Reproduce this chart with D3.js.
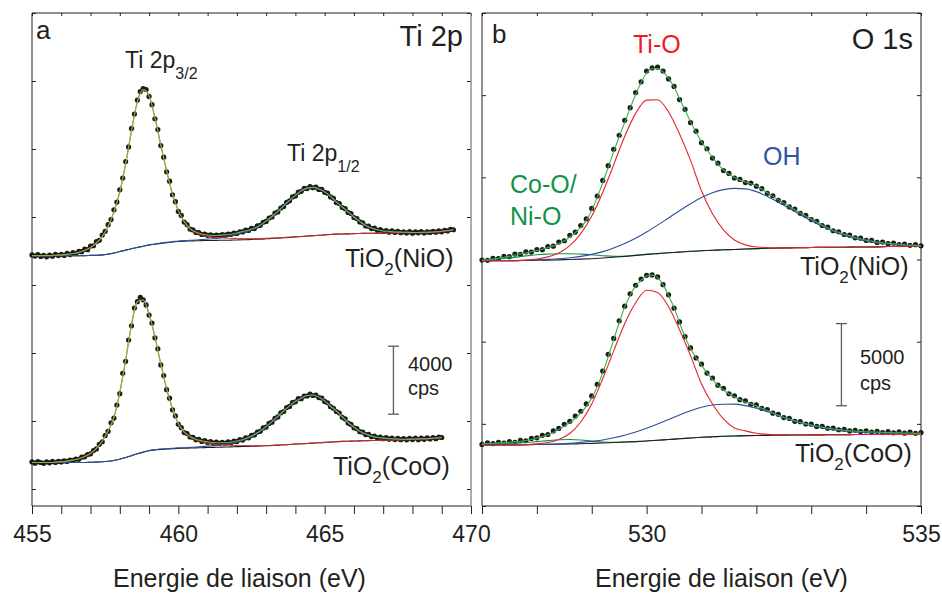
<!DOCTYPE html>
<html><head><meta charset="utf-8">
<script src="https://cdn.jsdelivr.net/npm/d3@7"></script>
<style>
body{margin:0;background:#fff}
svg{display:block}
text{font-family:"Liberation Sans",Arial,Helvetica,sans-serif;fill:#231f20}
</style>
</head><body>
<svg id="c" width="942" height="594"></svg>
<script>
// ================= DATA =================
// Panel a : Ti 2p  (binding energy grid: start + i*step)
const tiStart = 455.0, tiDotStep = 0.1, tiFitStep = 0.2;
const tiOffsetNiO = 13730, tiOffsetCoO = 1560;      // vertical stacking offsets (cps)
const tiTicksMinor = [455,456,457,458,459,460,461,462,463,464,465,466,467,468,469,470];
const tiTickLabels = [455,460,465,470];
const tiYTicks = [0,4000,8000,12000,16000,20000,24000,28000];

const tiNiODots = [40,-30,60,-50,20,-70,30,-40,80,0,
70,10,130,60,170,110,250,230,380,350,
560,580,820,900,1210,1430,1820,2120,2690,3150,
3870,4560,5530,6390,7480,8330,9150,9650,9820,9770,
9360,8880,8050,7410,6470,5790,4930,4380,3580,3170,
2600,2360,1970,1820,1560,1510,1360,1350,1240,1260,
1190,1220,1160,1210,1170,1230,1200,1270,1250,1330,
1300,1400,1390,1500,1480,1600,1590,1750,1780,1960,
2010,2210,2270,2500,2570,2800,2890,3130,3220,3450,
3510,3730,3780,3950,3940,4060,3990,4030,3890,3890,
3720,3670,3450,3370,3120,3060,2830,2760,2540,2470,
2240,2180,1980,1930,1740,1730,1590,1610,1490,1530,
1420,1470,1380,1450,1360,1420,1350,1400,1330,1410,
1320,1390,1340,1410,1330,1400,1360,1420,1380,1450,
1400,1490,1450,1540,1520];
const tiNiOEnv = [0,0,0,0,20, 40,70,120,190,310, 470,740,1120,1710,2570, 3750,5400,7350,9060,9760,
9410,8110,6520,4990,3630, 2660,2010,1590,1390,1270, 1210,1180,1190,1220,1260, 1330,1420,1500,1620,1800,
2040,2300,2600,2920,3250, 3540,3810,3970,4010,3920, 3750,3480,3160,2860,2570, 2270,2010,1770,1620,1520,
1450,1420,1390,1380,1370, 1360,1360,1370,1380,1400, 1430,1480,1520];
const tiNiOBg = [0,0,0,0,0, 0,0,0,0,0, 10,20,40,90,150, 240,320,400,480,550,
620,670,720,760,800, 830,850,860,870,880, 890,890,900,900,910, 920,930,940,960,970,
990,1010,1030,1050,1070, 1100,1120,1150,1170,1200, 1220,1240,1260,1270,1280, 1290,1300,1310,1310,1320,
1320,1330,1330,1340,1340, 1340,1345,1350,1360,1380, 1410,1450,1500];
const tiNiOP32 = [0,0,0,0,20, 40,70,120,190,310, 470,740,1120,1710,2570, 3750,5400,7350,9060,9760,
9400,8100,6500,4980,3610, 2640,1980,1550,1340,1210, 1130,1080,1060,1030,1020, 1010,1000,1000,1000,1000,
1010,1030,1040,1060,1080, 1100,1120,1150,1170,1200, 1220,1240,1260,1270,1280, 1290,1300,1310,1310,1320,
1320,1330,1330,1340,1340, 1340,1345,1350,1360,1380, 1410,1450,1500];
const tiNiOP12 = [0,0,0,0,0, 0,0,0,0,0, 10,20,40,90,150, 240,320,400,480,550,
630,680,740,780,820, 860,880,900,920,950, 970,990,1030,1090,1150, 1240,1350,1440,1580,1770,
2020,2290,2590,2910,3240, 3540,3810,3970,4010,3920, 3750,3480,3160,2860,2570, 2270,2010,1770,1620,1520,
1450,1420,1390,1380,1370, 1360,1360,1370,1380,1400, 1430,1480,1520];

const tiCoODots = [30,-40,50,0,-50,40,-20,60,0,70,
30,100,60,140,120,200,190,310,330,470,
510,700,800,1070,1220,1580,1830,2330,2610,3380,
4050,5250,5950,7200,8040,9080,9460,9720,9570,9270,
8670,8200,7330,6690,5740,5110,4280,3780,3100,2740,
2250,2050,1760,1700,1500,1480,1340,1360,1240,1280,
1180,1230,1140,1200,1120,1190,1130,1210,1160,1260,
1230,1340,1320,1450,1450,1600,1620,1790,1830,2030,
2080,2300,2370,2600,2680,2920,3000,3230,3300,3520,
3570,3760,3750,3910,3910,4020,3940,3970,3820,3790,
3590,3510,3280,3190,3000,2910,2660,2560,2320,2240,
2040,1990,1810,1790,1640,1650,1520,1550,1450,1490,
1400,1460,1370,1430,1350,1420,1340,1410,1330,1420,
1350,1440,1340,1430,1360,1450,1380,1470,1400,1490,
1470];
const tiCoOEnv = [0,0,0,0,20, 50,80,140,220,350, 530,830,1250,1860,2660, 4130,6020,8110,9450,9560,
8730,7400,5810,4340,3160, 2300,1800,1530,1370,1280, 1220,1170,1160,1160,1190, 1260,1350,1480,1650,1860,
2110,2400,2710,3030,3330, 3600,3780,3940,3970,3850, 3620,3310,3030,2690,2350, 2070,1840,1670,1550,1480,
1430,1400,1390,1370,1370, 1380,1390,1400,1420,1440, 1480];
const tiCoOBg = [0,0,0,0,0, 0,0,0,0,0, 10,20,40,70,120, 190,290,400,510,610,
690,740,770,790,810, 830,840,850,860,870, 880,890,900,910,920, 930,940,950,960,970,
980,1000,1020,1040,1060, 1080,1100,1120,1140,1160, 1180,1200,1220,1240,1250, 1260,1270,1280,1290,1300,
1300,1310,1320,1330,1340, 1350,1360,1370,1390,1410, 1440];
const tiCoOP32 = [0,0,0,0,20, 50,80,140,220,350, 530,830,1250,1860,2660, 4130,6020,8110,9450,9560,
8720,7390,5800,4330,3140, 2280,1770,1490,1320,1220, 1140,1070,1040,1020,1010, 1000,1000,990,990,990,
1000,1010,1030,1040,1060, 1080,1100,1120,1140,1160, 1180,1200,1220,1240,1250, 1260,1270,1280,1290,1300,
1300,1310,1320,1330,1340, 1350,1360,1370,1390,1410, 1440];
const tiCoOP12 = [0,0,0,0,0, 0,0,0,0,0, 10,20,40,70,120, 190,290,400,510,610,
700,750,790,810,830, 860,870,890,910,940, 960,990,1030,1050,1100, 1190,1300,1440,1620,1840,
2100,2390,2700,3030,3330, 3600,3780,3940,3970,3850, 3620,3310,3030,2690,2350, 2070,1840,1670,1550,1480,
1430,1400,1390,1370,1370, 1380,1390,1400,1420,1440, 1480];

// Panel b : O 1s
const oStart = 527.0, oDotStep = 0.1, oFitStep = 0.2;
const oOffsetNiO = 14910, oOffsetCoO = 3710;
const oTicksMinor = [527,528,529,530,531,532,533,534,535];
const oTickLabels = [530,535];
const oYTicks = [0,5000,10000,15000,20000,25000,30000];

const oNiODots = [60,40,160,150,280,260,420,400,560,540,
700,690,880,900,1150,1230,1560,1760,2160,2560,
3200,3950,4900,5800,6800,7650,8560,9330,10250,10900,
11560,11750,11800,11560,11080,10620,9820,9230,8420,7900,
7200,6830,6260,5950,5500,5330,5050,4960,4770,4740,
4550,4400,4120,3970,3690,3560,3290,3160,2900,2770,
2520,2410,2160,2060,1840,1780,1610,1570,1410,1390,
1250,1250,1130,1150,1050,1090,1000,1030,950,990,
920];
const oNiOEnv = [30,70,120,170,230,290,360,430,490,560,
630,710,810,920,1060,1230,1460,1730,2040,2470,
3080,3870,4760,5700,6650,7560,8420,9300,10130,10860,
11440,11700,11710,11500,11130,10580,9880,9180,8480,7840,
7260,6770,6310,5890,5550,5280,5080,4920,4810,4700,
4580,4360,4150,3930,3720,3520,3320,3120,2930,2730,
2550,2370,2180,2020,1860,1740,1630,1530,1430,1350,
1270,1210,1150,1110,1070,1040,1020,990,970,950,
930];
const oNiOBg = [0,10,10,20,30, 40,50,70,90,110, 140,180,230,280,340, 400,450,500,540,590,
620,650,680,700,730, 750,770,790,800,810, 820,830,840,840,850, 850,860,880,890,900, 910];
const oNiOTiO = [0,10,10,20,50, 120,250,490,930,1660, 2730,4170,5860,7570,8980, 9790,9810,9070,7730,6120,
4270,2870,1890,1280,980, 850,810,790,800,810, 820,830,840,840,850, 850,860,880,890,900, 910];
const oNiOOH = [0,10,20,20,40, 70,100,130,200,280, 400,570,790,1060,1380, 1760,2180,2620,3060,3480,
3860,4150,4340,4420,4390, 4220,3920,3580,3200,2820, 2450,2110,1810,1560,1370, 1200,1100,1030,980,950, 920];
const oNiOMO = [50,90,150,220,310, 380,420,440,440,420, 380,320,280,290,340, 400,450,500,540,590,
620,650,680,700,730, 750,770,790,800,810, 820,830,840,840,850, 850,860,880,890,900, 910];

const oCoODots = [40,130,90,170,120,210,170,280,260,400,
440,590,640,860,1010,1260,1440,1760,2050,2500,
2990,3700,4500,5520,6490,7560,8450,9200,9720,10100,
10330,10350,10230,9760,9140,8330,7490,6600,5910,5300,
4920,4380,4080,3640,3450,3120,3000,2760,2690,2480,
2440,2230,2160,1940,1870,1670,1620,1440,1420,1280,
1270,1130,1140,1020,1030,930,960,860,900,820,
860,790,840,760,820,740,800,720,790,710,
760];
const oCoOEnv = [70,90,110,130,150,170,200,230,280,340,
410,510,620,770,950,1150,1370,1630,1950,2350,
2870,3540,4390,5370,6410,7440,8390,9120,9670,10030,
10280,10340,10190,9760,9090,8360,7440,6590,5860,5310,
4850,4390,4000,3630,3360,3110,2920,2760,2620,2500,
2380,2240,2100,1950,1810,1680,1570,1460,1370,1290,
1210,1150,1090,1030,980,940,900,870,850,830,
810,800,790,770,760,750,740,730,730,720,
710];
const oCoOBg = [0,0,10,10,20, 30,40,50,60,80, 100,120,150,180,210, 250,290,340,380,430,
470,500,530,550,570, 580,590,600,610,610, 620,620,630,630,640, 640,640,650,650,650, 650];
const oCoOTiO = [0,0,10,10,20, 70,150,340,700,1400, 2500,4030,5730,7380,8660, 9420,9280,8410,7020,5440,
3720,2500,1590,1040,860, 720,650,620,610,610, 620,620,630,630,640, 640,640,650,650,650, 650];
const oCoOOH = [0,0,10,10,20, 40,50,70,100,160, 230,310,440,600,790, 1020,1280,1560,1830,2090,
2300,2440,2480,2490,2400, 2240,2040,1790,1560,1360, 1190,1050,920,860,800, 760,740,720,710,700, 690];
const oCoOMO = [20,40,70,100,150, 210,270,320,340,310, 240,180,160,180,210, 250,290,340,380,430,
470,500,530,550,570, 580,590,600,610,610, 620,620,630,630,640, 640,640,650,650,650, 650];

const scaleBarA = [4400, 8400], scaleBarAE = 467.35;
const scaleBarB = [6100, 11100], scaleBarBE = 533.55;

// ================= DRAW =================
const svg = d3.select("#c");
const INK = "#231f20";
const FONT = '"Liberation Sans",Arial,Helvetica,sans-serif';
const series = (start, step, arr) => arr.map((v, i) => [start + i * step, v]);

function drawPanel(o) {
  const g = svg.append("g");
  const x = o.x, y = o.y;
  const [x0, x1] = x.range(), [yb, yt] = y.range();
  const ax = g.append("g").attr("transform", `translate(0,${yb})`)
    .call(d3.axisBottom(x).tickValues(o.xTicks).tickSize(8).tickPadding(12)
      .tickFormat(d => o.xLabels.includes(d) ? d : ""));
  ax.select(".domain").remove();
  ax.selectAll("line").attr("stroke", INK).attr("stroke-width", 1);
  ax.selectAll("text").attr("font-size", 23).attr("font-family", FONT).attr("fill", INK);
  const at = g.append("g").attr("transform", `translate(0,${yt})`)
    .call(d3.axisTop(x).tickValues(o.xTicks).tickSize(-3).tickFormat(""));
  at.select(".domain").remove();
  at.selectAll("line").attr("stroke", INK);
  const al = g.append("g").attr("transform", `translate(${x0},0)`)
    .call(d3.axisLeft(y).tickValues(o.yTicks).tickSize(-4).tickFormat(""));
  al.select(".domain").remove();
  al.selectAll("line").attr("stroke", INK);
  const ar = g.append("g").attr("transform", `translate(${x1},0)`)
    .call(d3.axisRight(y).tickValues(o.yTicks).tickSize(-4).tickFormat(""));
  ar.select(".domain").remove();
  ar.selectAll("line").attr("stroke", INK);
  g.append("line").attr("x1", x0).attr("x2", x1).attr("y1", yt).attr("y2", yt).attr("stroke", INK);
  g.append("line").attr("x1", x0).attr("x2", x1).attr("y1", yb).attr("y2", yb).attr("stroke", INK);
  g.append("line").attr("x1", x0).attr("x2", x0).attr("y1", yt).attr("y2", yb).attr("stroke", INK);
  g.append("line").attr("x1", x1).attr("x2", x1).attr("y1", yt).attr("y2", yb)
    .attr("stroke", o.rightColor).attr("stroke-width", o.rightWidth);

  o.spectra.forEach(sp => {
    const dots = series(o.start, o.dotStep, sp.dots);
    g.append("g").selectAll("circle").data(dots).join("circle")
      .attr("cx", d => x(d[0])).attr("cy", d => y(d[1] + sp.offset))
      .attr("r", 2.6).attr("fill", "#1c1c1c");
    sp.lines.forEach(l => {
      const line = d3.line().x(d => x(d[0])).y(d => y(d[1] + sp.offset)).curve(d3.curveMonotoneX);
      g.append("path").datum(series(o.start, l.step, l.values)).attr("d", line)
        .attr("fill", "none").attr("stroke", l.color).attr("stroke-width", l.width || 1.1)
        .attr("stroke-opacity", l.opacity || 1);
    });
  });
  const bx = x(o.barE), by0 = y(o.bar[0]), by1 = y(o.bar[1]);
  const bar = g.append("g").attr("stroke", "#58595b").attr("stroke-width", 1.3);
  bar.append("line").attr("x1", bx).attr("x2", bx).attr("y1", by0).attr("y2", by1);
  bar.append("line").attr("x1", bx - 5.5).attr("x2", bx + 5.5).attr("y1", by0).attr("y2", by0);
  bar.append("line").attr("x1", bx - 5.5).attr("x2", bx + 5.5).attr("y1", by1).attr("y2", by1);
  return g;
}

const xA = d3.scaleLinear().domain([455, 470]).range([32, 471]);
const yA = d3.scaleLinear().domain([-1000, 28000]).range([506, 13]);
const xB = d3.scaleLinear().domain([527, 535]).range([482, 921]);
const yB = d3.scaleLinear().domain([0, 30000]).range([506, 13]);

const ENV_A = "#79c143", RED = "#e3262b", BLUE = "#2e4d9e", ENV_B = "#3cb04a", MO = "#14904a";

drawPanel({
  x: xA, y: yA, xTicks: tiTicksMinor, xLabels: tiTickLabels, yTicks: tiYTicks,
  start: tiStart, dotStep: tiDotStep, rightColor: "#8a8a8a", rightWidth: 1.4,
  bar: scaleBarA, barE: scaleBarAE,
  spectra: [
    {offset: tiOffsetNiO, dots: tiNiODots, lines: [
      {values: tiNiOBg, step: tiFitStep, color: INK},
      {values: tiNiOP12, step: tiFitStep, color: BLUE},
      {values: tiNiOP32, step: tiFitStep, color: RED, opacity: 0.85},
      {values: tiNiOEnv, step: tiFitStep, color: ENV_A, opacity: 0.92}]},
    {offset: tiOffsetCoO, dots: tiCoODots, lines: [
      {values: tiCoOBg, step: tiFitStep, color: INK},
      {values: tiCoOP12, step: tiFitStep, color: BLUE},
      {values: tiCoOP32, step: tiFitStep, color: RED, opacity: 0.85},
      {values: tiCoOEnv, step: tiFitStep, color: ENV_A, opacity: 0.92}]}
  ]
});
drawPanel({
  x: xB, y: yB, xTicks: oTicksMinor, xLabels: oTickLabels, yTicks: oYTicks,
  start: oStart, dotStep: oDotStep, rightColor: INK, rightWidth: 1,
  bar: scaleBarB, barE: scaleBarBE,
  spectra: [
    {offset: oOffsetNiO, dots: oNiODots, lines: [
      {values: oNiOMO, step: oFitStep, color: MO},
      {values: oNiOBg, step: oFitStep, color: INK},
      {values: oNiOOH, step: oFitStep, color: BLUE},
      {values: oNiOTiO, step: oFitStep, color: RED},
      {values: oNiOEnv, step: oDotStep, color: ENV_B}]},
    {offset: oOffsetCoO, dots: oCoODots, lines: [
      {values: oCoOMO, step: oFitStep, color: MO},
      {values: oCoOBg, step: oFitStep, color: INK},
      {values: oCoOOH, step: oFitStep, color: BLUE},
      {values: oCoOTiO, step: oFitStep, color: RED},
      {values: oCoOEnv, step: oDotStep, color: ENV_B}]}
  ]
});

// ================= TEXT =================
function label(x, y, size, parts, opts = {}) {
  const t = svg.append("text").attr("x", x).attr("y", y).attr("font-size", size)
    .attr("text-anchor", opts.anchor || "start").attr("fill", opts.color || INK);
  parts.forEach(p => {
    const s = t.append("tspan").text(p.t);
    if (p.sub) s.attr("font-size", p.sub).attr("dy", p.dy);
    else if (p.dy) s.attr("dy", p.dy);
  });
  if (opts.color) t.selectAll("tspan").attr("fill", opts.color);
  return t;
}
label(36, 39, 26, [{t: "a"}]);
label(463, 46, 29, [{t: "Ti 2p"}], {anchor: "end"});
label(125, 68, 23, [{t: "Ti 2p"}, {t: "3/2", sub: 16, dy: 11}]);
label(287, 161, 23, [{t: "Ti 2p"}, {t: "1/2", sub: 16, dy: 11}]);
label(345, 267, 25, [{t: "TiO"}, {t: "2", sub: 17, dy: 8}, {t: "(NiO)", dy: -8}]);
label(333, 475, 25, [{t: "TiO"}, {t: "2", sub: 17, dy: 8}, {t: "(CoO)", dy: -8}]);
label(408, 371, 20, [{t: "4000"}]);
label(408, 395, 20, [{t: "cps"}]);
label(113, 587, 25, [{t: "Energie de liaison (eV)"}]);

label(492, 43, 26, [{t: "b"}]);
label(913, 49, 29, [{t: "O 1s"}], {anchor: "end"});
label(633, 53, 25, [{t: "Ti-O"}], {color: "#ed1c24"});
label(763, 165, 25, [{t: "OH"}], {color: "#2e54a5"});
label(510, 193, 25, [{t: "Co-O/"}], {color: "#139247"});
label(510, 225, 25, [{t: "Ni-O"}], {color: "#139247"});
label(800, 275, 25, [{t: "TiO"}, {t: "2", sub: 17, dy: 8}, {t: "(NiO)", dy: -8}]);
label(795, 462, 25, [{t: "TiO"}, {t: "2", sub: 17, dy: 8}, {t: "(CoO)", dy: -8}]);
label(860, 364, 20, [{t: "5000"}]);
label(860, 390, 20, [{t: "cps"}]);
label(595, 587, 25, [{t: "Energie de liaison (eV)"}]);
</script>
</body></html>
